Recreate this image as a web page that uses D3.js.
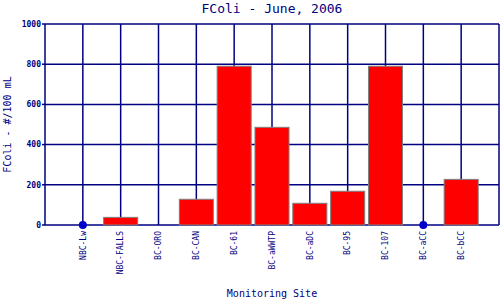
<!DOCTYPE html>
<html>
<head>
<meta charset="utf-8">
<script src="https://cdn.jsdelivr.net/npm/d3@7"></script>
<style>
  body { margin: 0; background: #fff; }
  svg text { font-family: "DejaVu Sans Mono", monospace; fill: #000080; }
</style>
</head>
<body>
<div id="chart"></div>
<script>
// FColi - June, 2006 chart data
const sites = ["NBC-Lw", "NBC-FALLS", "BC-ORO", "BC-CAN", "BC-61", "BC-aWWTP",
               "BC-aDC", "BC-95", "BC-107", "BC-aCC", "BC-bCC"];
// null = no bar, plotted as a marker at zero
const fcoli = [null, 38, 0, 128, 790, 486, 108, 168, 790, null, 227];
const yTicks = [0, 200, 400, 600, 800, 1000];

const W = 500, H = 300;
const margin = { top: 24, right: 1, bottom: 75, left: 45 };
const navy = "#000080";

const svg = d3.select("#chart").append("svg")
    .attr("width", W).attr("height", H);

const x = d3.scaleLinear()
    .domain([0, sites.length + 1])
    .range([margin.left, W - margin.right]);
const y = d3.scaleLinear()
    .domain([0, 1000])
    .range([H - margin.bottom, margin.top]);
const barW = (x(1) - x(0)) * 0.9;

// grid
const grid = svg.append("g").attr("stroke", navy).attr("stroke-width", 1.5);
grid.selectAll(".hg").data(yTicks).join("line")
    .attr("x1", x(0)).attr("x2", x(sites.length + 1))
    .attr("y1", d => y(d)).attr("y2", d => y(d));
grid.selectAll(".vg").data(d3.range(0, sites.length + 2)).join("line")
    .attr("x1", d => x(d)).attr("x2", d => x(d))
    .attr("y1", y(0)).attr("y2", y(1000));

// y axis ticks + labels
const yAxis = svg.append("g");
yAxis.selectAll("line").data(yTicks).join("line")
    .attr("x1", x(0) - 3).attr("x2", x(0))
    .attr("y1", d => y(d)).attr("y2", d => y(d))
    .attr("stroke", navy).attr("stroke-width", 1.5);
yAxis.selectAll("text").data(yTicks).join("text")
    .attr("x", x(0) - 4).attr("y", d => y(d))
    .attr("dy", "0.35em")
    .attr("text-anchor", "end")
    .style("font-size", "8px").style("font-weight", "bold")
    .text(d => d);

// bars
const data = sites.map((s, i) => ({ site: s, v: fcoli[i], i: i + 1 }));
svg.append("g").selectAll("rect")
    .data(data.filter(d => d.v !== null)).join("rect")
    .attr("x", d => x(d.i) - barW / 2)
    .attr("width", barW)
    .attr("y", d => y(d.v))
    .attr("height", d => y(0) - y(d.v))
    .attr("fill", "#ff0000")
    .attr("stroke", "#808080")
    .attr("stroke-width", 1);

// markers for missing values
svg.append("g").selectAll("circle")
    .data(data.filter(d => d.v === null)).join("circle")
    .attr("cx", d => x(d.i)).attr("cy", y(0))
    .attr("r", 4)
    .attr("fill", "#0000cc");

// x labels (rotated)
svg.append("g").selectAll("text").data(data).join("text")
    .attr("transform", d => `translate(${x(d.i)},${y(0) + 6}) rotate(-90)`)
    .attr("text-anchor", "end")
    .attr("dy", "0.35em")
    .style("font-size", "8px")
    .text(d => d.site);

// titles
svg.append("text")
    .attr("x", (x(0) + x(sites.length + 1)) / 2).attr("y", 13)
    .attr("text-anchor", "middle")
    .style("font-size", "13px")
    .text("FColi - June, 2006");

svg.append("text")
    .attr("x", (x(0) + x(sites.length + 1)) / 2).attr("y", 297)
    .attr("text-anchor", "middle")
    .style("font-size", "10px")
    .text("Monitoring Site");

svg.append("text")
    .attr("transform", `translate(11,${(y(0) + y(1000)) / 2}) rotate(-90)`)
    .attr("text-anchor", "middle")
    .style("font-size", "10px")
    .text("FColi - #/100 mL");
</script>
</body>
</html>
